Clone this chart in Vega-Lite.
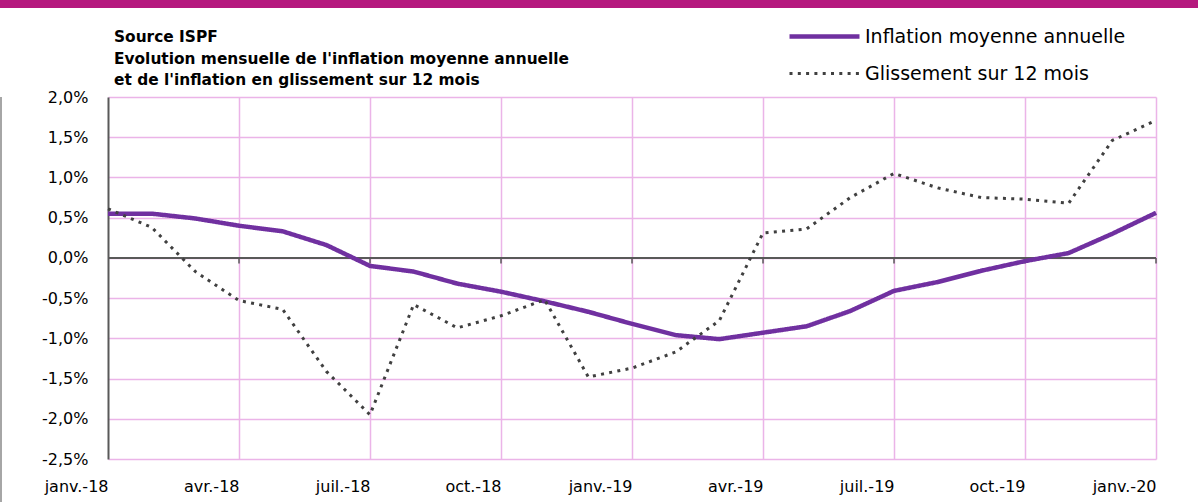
{
  "$schema": "https://vega.github.io/schema/vega-lite/v6.json",
  "padding": 0,
  "autosize": {"type": "pad"},
  "background": "white",
  "spacing": 0,
  "config": {
    "font": "DejaVu Sans",
    "view": {"stroke": null},
    "axis": {"labelColor": "#000000"},
    "legend": {"labelColor": "#000000"}
  },
  "datasets": {
    "inflation": [
      {"mois": "janv.-18", "serie": "Inflation moyenne annuelle", "valeur": 0.55},
      {"mois": "févr.-18", "serie": "Inflation moyenne annuelle", "valeur": 0.55},
      {"mois": "mars-18", "serie": "Inflation moyenne annuelle", "valeur": 0.49},
      {"mois": "avr.-18", "serie": "Inflation moyenne annuelle", "valeur": 0.40},
      {"mois": "mai-18", "serie": "Inflation moyenne annuelle", "valeur": 0.33},
      {"mois": "juin-18", "serie": "Inflation moyenne annuelle", "valeur": 0.16},
      {"mois": "juil.-18", "serie": "Inflation moyenne annuelle", "valeur": -0.10},
      {"mois": "août-18", "serie": "Inflation moyenne annuelle", "valeur": -0.17},
      {"mois": "sept.-18", "serie": "Inflation moyenne annuelle", "valeur": -0.32},
      {"mois": "oct.-18", "serie": "Inflation moyenne annuelle", "valeur": -0.42},
      {"mois": "nov.-18", "serie": "Inflation moyenne annuelle", "valeur": -0.54},
      {"mois": "déc.-18", "serie": "Inflation moyenne annuelle", "valeur": -0.67},
      {"mois": "janv.-19", "serie": "Inflation moyenne annuelle", "valeur": -0.82},
      {"mois": "févr.-19", "serie": "Inflation moyenne annuelle", "valeur": -0.96},
      {"mois": "mars-19", "serie": "Inflation moyenne annuelle", "valeur": -1.01},
      {"mois": "avr.-19", "serie": "Inflation moyenne annuelle", "valeur": -0.93},
      {"mois": "mai-19", "serie": "Inflation moyenne annuelle", "valeur": -0.85},
      {"mois": "juin-19", "serie": "Inflation moyenne annuelle", "valeur": -0.66},
      {"mois": "juil.-19", "serie": "Inflation moyenne annuelle", "valeur": -0.41},
      {"mois": "août-19", "serie": "Inflation moyenne annuelle", "valeur": -0.30},
      {"mois": "sept.-19", "serie": "Inflation moyenne annuelle", "valeur": -0.16},
      {"mois": "oct.-19", "serie": "Inflation moyenne annuelle", "valeur": -0.04},
      {"mois": "nov.-19", "serie": "Inflation moyenne annuelle", "valeur": 0.06},
      {"mois": "déc.-19", "serie": "Inflation moyenne annuelle", "valeur": 0.30},
      {"mois": "janv.-20", "serie": "Inflation moyenne annuelle", "valeur": 0.56},
      {"mois": "janv.-18", "serie": "Glissement sur 12 mois", "valeur": 0.61},
      {"mois": "févr.-18", "serie": "Glissement sur 12 mois", "valeur": 0.38},
      {"mois": "mars-18", "serie": "Glissement sur 12 mois", "valeur": -0.17},
      {"mois": "avr.-18", "serie": "Glissement sur 12 mois", "valeur": -0.53},
      {"mois": "mai-18", "serie": "Glissement sur 12 mois", "valeur": -0.64},
      {"mois": "juin-18", "serie": "Glissement sur 12 mois", "valeur": -1.41},
      {"mois": "juil.-18", "serie": "Glissement sur 12 mois", "valeur": -1.95},
      {"mois": "août-18", "serie": "Glissement sur 12 mois", "valeur": -0.58},
      {"mois": "sept.-18", "serie": "Glissement sur 12 mois", "valeur": -0.87},
      {"mois": "oct.-18", "serie": "Glissement sur 12 mois", "valeur": -0.72},
      {"mois": "nov.-18", "serie": "Glissement sur 12 mois", "valeur": -0.52},
      {"mois": "déc.-18", "serie": "Glissement sur 12 mois", "valeur": -1.48},
      {"mois": "janv.-19", "serie": "Glissement sur 12 mois", "valeur": -1.37},
      {"mois": "févr.-19", "serie": "Glissement sur 12 mois", "valeur": -1.17},
      {"mois": "mars-19", "serie": "Glissement sur 12 mois", "valeur": -0.78},
      {"mois": "avr.-19", "serie": "Glissement sur 12 mois", "valeur": 0.31},
      {"mois": "mai-19", "serie": "Glissement sur 12 mois", "valeur": 0.36},
      {"mois": "juin-19", "serie": "Glissement sur 12 mois", "valeur": 0.75},
      {"mois": "juil.-19", "serie": "Glissement sur 12 mois", "valeur": 1.05},
      {"mois": "août-19", "serie": "Glissement sur 12 mois", "valeur": 0.87},
      {"mois": "sept.-19", "serie": "Glissement sur 12 mois", "valeur": 0.75},
      {"mois": "oct.-19", "serie": "Glissement sur 12 mois", "valeur": 0.73},
      {"mois": "nov.-19", "serie": "Glissement sur 12 mois", "valeur": 0.68},
      {"mois": "déc.-19", "serie": "Glissement sur 12 mois", "valeur": 1.46},
      {"mois": "janv.-20", "serie": "Glissement sur 12 mois", "valeur": 1.71}
    ]
  },
  "vconcat": [
    {
      "width": 1198,
      "height": 8,
      "data": {"values": [{}]},
      "mark": {"type": "rect", "color": "#B5197E"},
      "encoding": {}
    },
    {
      "columns": 2,
      "align": "none",
      "spacing": 39,
      "concat": [
        {
          "width": 2,
          "height": 494,
          "data": {"values": [{}]},
          "mark": {"type": "rect", "color": "#A6A6A6"},
          "encoding": {}
        },
        {
          "width": 1048,
          "height": 362,
          "data": {"name": "inflation"},
          "title": {
            "text": ["", "Source ISPF", "Evolution mensuelle de l'inflation moyenne annuelle", "et de l'inflation en glissement sur 12 mois"],
            "anchor": "start",
            "frame": "group",
            "fontSize": 15.4,
            "fontWeight": "bold",
            "lineHeight": 21.5,
            "offset": 0.5,
            "dx": 6,
            "color": "#000000"
          },
          "layer": [
            {
              "mark": {"type": "rule", "color": "#595959", "strokeWidth": 2},
              "encoding": {"y": {"datum": 0, "type": "quantitative"}}
            },
            {
              "transform": [
                {"filter": "datum.serie === 'Inflation moyenne annuelle'"},
                {"filter": "indexof(['avr.-18','juil.-18','oct.-18','janv.-19','avr.-19','juil.-19','oct.-19','janv.-20'], datum.mois) >= 0"}
              ],
              "mark": {"type": "rule", "color": "#595959", "strokeWidth": 1.5},
              "encoding": {
                "x": {"field": "mois", "type": "ordinal"},
                "y": {"datum": 0, "type": "quantitative"},
                "y2": {"datum": -0.07}
              }
            },
            {
              "mark": {"type": "line", "strokeJoin": "round"},
              "encoding": {
                "x": {
                  "field": "mois",
                  "type": "ordinal",
                  "scale": {
                    "type": "point",
                    "padding": 0,
                    "domain": ["janv.-18", "févr.-18", "mars-18", "avr.-18", "mai-18", "juin-18", "juil.-18", "août-18", "sept.-18", "oct.-18", "nov.-18", "déc.-18", "janv.-19", "févr.-19", "mars-19", "avr.-19", "mai-19", "juin-19", "juil.-19", "août-19", "sept.-19", "oct.-19", "nov.-19", "déc.-19", "janv.-20"]
                  },
                  "axis": {
                    "title": null,
                    "values": ["janv.-18", "avr.-18", "juil.-18", "oct.-18", "janv.-19", "avr.-19", "juil.-19", "oct.-19", "janv.-20"],
                    "labelAngle": 0,
                    "labelFontSize": 16,
                    "labelPadding": 27,
                    "ticks": false,
                    "domain": false,
                    "grid": true,
                    "gridColor": {"condition": {"test": "datum.value === 'janv.-18'", "value": "transparent"}, "value": "#EBB4E8"},
                    "gridWidth": 1.5
                  }
                },
                "y": {
                  "field": "valeur",
                  "type": "quantitative",
                  "scale": {"domain": [-2.5, 2], "nice": false, "zero": false},
                  "axis": {
                    "title": null,
                    "values": [-2.5, -2, -1.5, -1, -0.5, 0, 0.5, 1, 1.5, 2],
                    "labelExpr": "replace(replace(format(datum.value, '.1f'), '.', ','), '\u2212', '-') + '%'",
                    "labelFontSize": 16,
                    "labelPadding": 20,
                    "ticks": false,
                    "domainColor": "#595959",
                    "domainWidth": 2,
                    "grid": true,
                    "gridColor": "#EBB4E8",
                    "gridWidth": 1.5
                  }
                },
                "color": {
                  "field": "serie",
                  "type": "nominal",
                  "scale": {"domain": ["Inflation moyenne annuelle", "Glissement sur 12 mois"], "range": ["#7030A0", "#404040"]},
                  "legend": {
                    "title": null,
                    "orient": "none",
                    "legendX": 804.5,
                    "legendY": 16.5,
                    "padding": 0,
                    "labelFontSize": 19,
                    "labelOffset": 20.5,
                    "labelLimit": 500,
                    "rowPadding": 8,
                    "symbolType": "M-2,0H2",
                    "symbolSize": 1225
                  }
                },
                "strokeDash": {
                  "field": "serie",
                  "type": "nominal",
                  "scale": {"domain": ["Inflation moyenne annuelle", "Glissement sur 12 mois"], "range": [[1, 0], [3, 5.3]]}
                },
                "strokeWidth": {
                  "field": "serie",
                  "type": "nominal",
                  "scale": {"domain": ["Inflation moyenne annuelle", "Glissement sur 12 mois"], "range": [4.5, 3]}
                }
              }
            }
          ]
        }
      ]
    }
  ]
}
